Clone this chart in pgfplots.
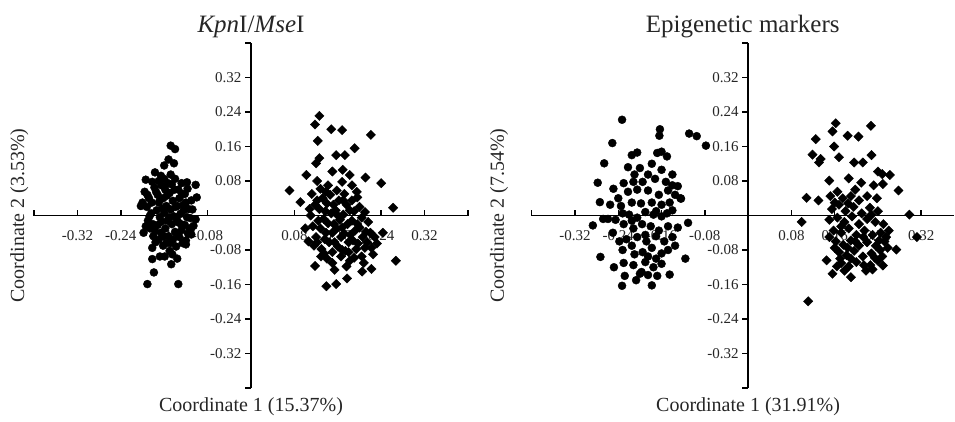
\documentclass[border=0pt]{standalone}
\usepackage{fontspec}
\setmainfont{Liberation Serif}
\usepackage{pgfplots}
\pgfplotsset{compat=1.18}
\newcommand\fs[1]{\fontsize{#1}{#1}\selectfont}
\definecolor{txt}{HTML}{262626}
% tick labels under the markers, as in the original
\pgfplotsset{
  layers/pcolayers/.define layer set={axis background,axis grid,axis ticks,axis tick labels,axis lines,main,axis descriptions,axis foreground}{},
  pco/.style={
    set layers=pcolayers,
    scale only axis, height=345pt, anchor=south west,
    axis lines=middle, axis line style={line width=1.8pt, black, -},
    ymin=-0.4, ymax=0.4,
    xtick={-0.4,-0.32,-0.24,-0.16,-0.08,0.08,0.16,0.24,0.32,0.4},
    xticklabels={{},{-0.32},{-0.24},{-0.16},{-0.08},{0.08},{0.16},{0.24},{0.32},{}},
    ytick={-0.4,-0.32,-0.24,-0.16,-0.08,0.08,0.16,0.24,0.32,0.4},
    yticklabels={{},{-0.32},{-0.24},{-0.16},{-0.08},{0.08},{0.16},{0.24},{0.32},{}},
    major tick length=6pt, tick align=center,
    tick style={line width=1.5pt, black},
    x tick style={yshift=3pt}, y tick style={xshift=-3pt},
    xticklabel style={font=\fs{15}, text=txt, yshift=-8pt},
    yticklabel style={font=\fs{15}, text=txt, xshift=-3pt},
    title style={font=\fs{25}, text=txt, at={(axis description cs:0.5,1)}, anchor=south, yshift=-4pt},
    xlabel style={font=\fs{20}, text=txt, anchor=north, yshift=-6pt},
    ylabel style={font=\fs{20}, text=txt, at={(axis description cs:0,0.5)}, rotate=90, anchor=south},
    clip=false,
  },
  circ/.style={only marks, mark=*, mark size=4pt, black},
  diam/.style={only marks, mark=square*, mark size=3.3pt, mark options={rotate=45}, black},
}
\begin{document}
\begin{tikzpicture}

\begin{axis}[pco, at={(34pt,33pt)}, width=434pt, xmin=-0.4, xmax=0.4,
  title={\textit{Kpn}I/\textit{Mse}I},
  xlabel={Coordinate 1 (15.37\%)}, xlabel style={at={(axis description cs:0.5,0)}},
  ylabel={Coordinate 2 (3.53\%)}, ylabel style={yshift=2pt}]
\addplot[circ] coordinates {
(-0.148,0.162) (-0.140,0.154) (-0.160,0.116) (-0.142,0.121) (-0.177,0.100)
(-0.194,0.083) (-0.118,0.077) (-0.102,0.071) (-0.100,0.042) (-0.203,0.022)
(-0.102,-0.009) (-0.111,-0.032) (-0.120,-0.067) (-0.182,-0.075) (-0.168,-0.095)
(-0.182,-0.101) (-0.136,-0.100) (-0.147,-0.113) (-0.179,-0.132) (-0.191,-0.159)
(-0.134,-0.159)
(-0.196,0.055) (-0.188,0.040) (-0.192,0.020) (-0.184,0.005) (-0.190,-0.012)
(-0.186,-0.030) (-0.180,-0.048) (-0.176,-0.062)
(-0.178,0.065) (-0.172,0.048) (-0.170,0.030) (-0.174,0.012) (-0.168,-0.004)
(-0.172,-0.022) (-0.166,-0.040) (-0.170,-0.056) (-0.162,-0.070)
(-0.160,0.085) (-0.158,0.060) (-0.162,0.040) (-0.156,0.022) (-0.160,0.006)
(-0.154,-0.012) (-0.158,-0.030) (-0.152,-0.048) (-0.156,-0.064) (-0.150,-0.082)
(-0.148,0.095) (-0.146,0.072) (-0.150,0.052) (-0.144,0.034) (-0.148,0.014)
(-0.142,-0.002) (-0.146,-0.020) (-0.140,-0.038) (-0.144,-0.056) (-0.138,-0.072)
(-0.134,0.060) (-0.132,0.040) (-0.136,0.022) (-0.130,0.004) (-0.134,-0.016)
(-0.128,-0.034) (-0.132,-0.050) (-0.126,-0.064)
(-0.122,0.050) (-0.120,0.030) (-0.124,0.012) (-0.118,-0.004) (-0.122,-0.022)
(-0.116,-0.042) (-0.120,-0.058)
(-0.110,0.035) (-0.108,0.014) (-0.112,-0.006) (-0.106,-0.024) (-0.110,-0.044)
(-0.200,0.030) (-0.198,-0.040) (-0.182,0.078) (-0.166,0.092) (-0.140,0.085)
(-0.128,0.075)
(-0.191,0.048) (-0.183,0.030) (-0.187,-0.002) (-0.181,-0.020) (-0.177,-0.036)
(-0.175,0.055) (-0.165,0.070) (-0.167,0.038) (-0.163,0.016) (-0.165,-0.014)
(-0.161,-0.048) (-0.153,0.075) (-0.155,0.046) (-0.151,-0.004) (-0.149,-0.064)
(-0.141,0.060) (-0.139,0.020) (-0.137,-0.008) (-0.135,-0.044) (-0.127,0.050)
(-0.125,0.024) (-0.129,-0.020) (-0.117,0.062) (-0.115,0.015) (-0.113,-0.030)
(-0.159,-0.095) (-0.152,0.130) (-0.170,0.080) (-0.194,-0.025) (-0.145,-0.090)
};
\addplot[diam] coordinates {
(0.126,0.231) (0.118,0.211) (0.148,0.200) (0.168,0.198) (0.221,0.187)
(0.123,0.173) (0.191,0.156) (0.157,0.140) (0.173,0.140) (0.126,0.133)
(0.120,0.121) (0.150,0.102) (0.169,0.106) (0.102,0.094) (0.182,0.094)
(0.211,0.088) (0.240,0.075) (0.071,0.058) (0.091,0.031) (0.262,0.018)
(0.267,-0.105) (0.225,-0.090) (0.222,-0.124) (0.205,-0.130) (0.118,-0.117)
(0.129,-0.095) (0.154,-0.126) (0.177,-0.146) (0.157,-0.159) (0.139,-0.164)
(0.243,-0.040)
(0.112,0.050) (0.118,0.025) (0.110,0.000) (0.114,-0.025) (0.120,-0.050) (0.116,-0.070)
(0.128,0.062) (0.132,0.040) (0.126,0.015) (0.134,-0.008) (0.128,-0.030) (0.136,-0.055)
(0.130,-0.078)
(0.142,0.070) (0.146,0.048) (0.140,0.028) (0.148,0.005) (0.142,-0.018) (0.150,-0.040)
(0.144,-0.062) (0.150,-0.085) (0.140,-0.100)
(0.158,0.058) (0.162,0.035) (0.156,0.012) (0.164,-0.010) (0.158,-0.030) (0.166,-0.050)
(0.160,-0.072) (0.166,-0.095)
(0.172,0.050) (0.176,0.025) (0.170,0.002) (0.178,-0.020) (0.172,-0.042) (0.180,-0.062)
(0.174,-0.082) (0.182,-0.105)
(0.186,0.035) (0.190,0.010) (0.186,-0.012) (0.192,-0.035) (0.188,-0.058) (0.194,-0.078)
(0.190,-0.098)
(0.200,0.020) (0.204,-0.005) (0.200,-0.028) (0.206,-0.050) (0.210,-0.075) (0.204,-0.095)
(0.216,-0.015) (0.220,-0.040) (0.214,-0.062) (0.228,-0.050)
(0.122,0.080) (0.168,0.078) (0.195,0.055) (0.100,-0.030)
(0.122,0.035) (0.124,-0.012) (0.122,-0.062) (0.138,0.055) (0.137,0.010)
(0.138,-0.040) (0.135,-0.088) (0.152,0.025) (0.153,-0.020) (0.154,-0.062)
(0.160,0.000) (0.168,-0.028) (0.168,-0.080) (0.170,0.035) (0.182,0.012)
(0.183,-0.045) (0.180,-0.085) (0.196,-0.020) (0.197,-0.065) (0.196,0.042)
(0.210,0.008) (0.212,-0.038) (0.208,-0.110) (0.222,-0.075) (0.232,-0.065)
(0.150,-0.110) (0.176,-0.118) (0.108,0.015) (0.106,-0.060) (0.186,0.070)
};
\end{axis}

\begin{axis}[pco, at={(531.7pt,33pt)}, width=422pt, xmin=-0.4, xmax=0.38,
  title={Epigenetic markers},
  xlabel={Coordinate 1 (31.91\%)}, xlabel style={at={(axis description cs:0.5128,0)}},
  ylabel={Coordinate 2 (7.54\%)}, ylabel style={yshift=20pt}]
\addplot[circ] coordinates {
(-0.233,0.222) (-0.251,0.168) (-0.266,0.121) (-0.278,0.076) (-0.274,0.031)
(-0.287,-0.023) (-0.273,-0.096) (-0.248,-0.120) (-0.233,-0.163) (-0.207,-0.150)
(-0.178,-0.162) (-0.163,0.200) (-0.164,0.185) (-0.109,0.190) (-0.095,0.184)
(-0.078,0.162) (-0.124,0.039) (-0.111,-0.017) (-0.116,-0.100) (-0.145,-0.137)
(-0.197,-0.131) (-0.249,0.062) (-0.259,-0.008)
(-0.215,0.140) (-0.205,0.146) (-0.168,0.145) (-0.160,0.148) (-0.150,0.137)
(-0.222,0.112) (-0.200,0.110) (-0.178,0.120) (-0.160,0.106) (-0.140,0.095) (-0.210,0.095)
(-0.230,0.075) (-0.212,0.078) (-0.195,0.078) (-0.172,0.085) (-0.152,0.078) (-0.140,0.070)
(-0.130,0.068)
(-0.240,0.040) (-0.222,0.055) (-0.185,0.058) (-0.165,0.048) (-0.148,0.058) (-0.135,0.048)
(-0.125,0.040)
(-0.255,0.025) (-0.235,0.022) (-0.215,0.030) (-0.198,0.028) (-0.178,0.030) (-0.160,0.025)
(-0.145,0.030) (-0.232,0.005)
(-0.220,0.002) (-0.205,-0.005) (-0.190,0.008) (-0.175,0.002) (-0.160,-0.002) (-0.140,0.012)
(-0.268,-0.008) (-0.245,-0.010)
(-0.230,-0.020) (-0.212,-0.030) (-0.196,-0.020) (-0.180,-0.025) (-0.165,-0.035) (-0.148,-0.025)
(-0.130,-0.028) (-0.250,-0.040)
(-0.225,-0.055) (-0.205,-0.050) (-0.188,-0.060) (-0.170,-0.048) (-0.155,-0.060) (-0.140,-0.050)
(-0.215,-0.070)
(-0.232,-0.080) (-0.210,-0.090) (-0.195,-0.085) (-0.178,-0.075) (-0.160,-0.088) (-0.148,-0.080)
(-0.230,-0.110) (-0.212,-0.115) (-0.190,-0.108) (-0.175,-0.120) (-0.160,-0.112) (-0.200,-0.135)
(-0.185,-0.138)
(-0.228,-0.140) (-0.168,-0.140)
(-0.185,0.095) (-0.205,0.060) (-0.170,0.010) (-0.190,-0.045) (-0.215,-0.012)
(-0.185,-0.095) (-0.150,0.005) (-0.238,-0.060) (-0.135,-0.070) (-0.170,-0.100)
};
\addplot[diam] coordinates {
(0.162,0.214) (0.156,0.195) (0.184,0.185) (0.204,0.183) (0.227,0.208)
(0.125,0.177) (0.119,0.141) (0.134,0.131) (0.131,0.123) (0.159,0.160)
(0.168,0.135) (0.196,0.123) (0.212,0.123) (0.228,0.140) (0.150,0.081)
(0.186,0.086) (0.209,0.076) (0.240,0.102) (0.248,0.096) (0.262,0.094)
(0.249,0.073) (0.278,0.058) (0.108,0.041) (0.130,0.035) (0.298,0.002)
(0.312,-0.050) (0.099,-0.015) (0.274,-0.079) (0.249,-0.116) (0.145,-0.104)
(0.156,-0.135) (0.190,-0.143) (0.111,-0.199)
(0.152,0.045) (0.165,0.055) (0.175,0.040) (0.190,0.045) (0.205,0.035) (0.220,0.045) (0.238,0.040)
(0.155,0.015) (0.168,0.025) (0.180,0.010) (0.195,0.020) (0.210,0.005) (0.225,0.018) (0.240,0.010)
(0.150,-0.010) (0.165,-0.005) (0.178,-0.015) (0.192,-0.002) (0.205,-0.020) (0.220,-0.008)
(0.235,-0.015) (0.250,-0.020)
(0.158,-0.035) (0.172,-0.040) (0.186,-0.030) (0.200,-0.045) (0.215,-0.035) (0.230,-0.045)
(0.245,-0.040) (0.260,-0.035)
(0.162,-0.060) (0.176,-0.068) (0.190,-0.058) (0.205,-0.070) (0.220,-0.062) (0.236,-0.070)
(0.252,-0.060)
(0.168,-0.085) (0.182,-0.092) (0.196,-0.082) (0.212,-0.095) (0.228,-0.088) (0.244,-0.080)
(0.258,-0.075)
(0.172,-0.110) (0.186,-0.118) (0.200,-0.108) (0.226,-0.115) (0.240,-0.105) (0.178,-0.128)
(0.230,-0.125)
(0.160,0.030) (0.172,-0.025) (0.185,0.028) (0.198,-0.060) (0.213,-0.050)
(0.228,0.002) (0.242,-0.058) (0.255,-0.050) (0.170,-0.100) (0.190,-0.100)
(0.214,-0.115) (0.234,-0.098) (0.160,-0.075) (0.198,0.060) (0.232,0.070)
(0.218,-0.128) (0.164,-0.118) (0.150,-0.050) (0.248,-0.095) (0.184,-0.075)
};
\end{axis}
\path (0,0) rectangle (955pt,421pt);
\end{tikzpicture}
\end{document}
